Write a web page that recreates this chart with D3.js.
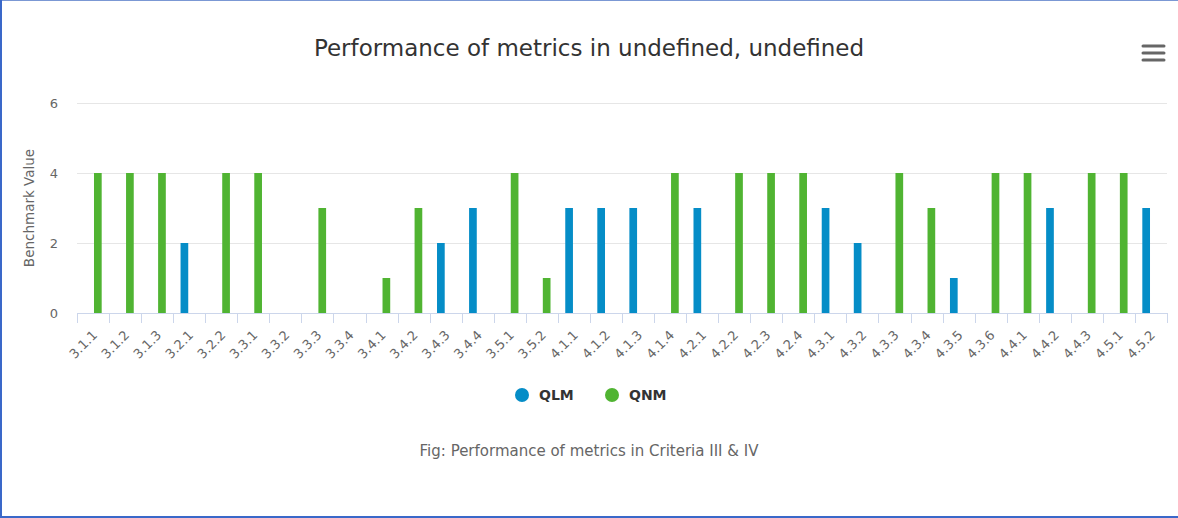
<!DOCTYPE html>
<html>
<head>
<meta charset="utf-8">
<script src="https://cdn.jsdelivr.net/npm/d3@7"></script>
<style>
  html, body { margin: 0; padding: 0; background: #fff; }
  svg { display: block; font-family: "DejaVu Sans", Verdana, sans-serif; }
</style>
</head>
<body>
<div id="chart"></div>
<script>
// categories (metric ids)
const categories = [
    "3.1.1", "3.1.2", "3.1.3", "3.2.1", "3.2.2", "3.3.1", "3.3.2", "3.3.3", "3.3.4",
    "3.4.1", "3.4.2", "3.4.3", "3.4.4", "3.5.1", "3.5.2",
    "4.1.1", "4.1.2", "4.1.3", "4.1.4", "4.2.1", "4.2.2", "4.2.3", "4.2.4",
    "4.3.1", "4.3.2", "4.3.3", "4.3.4", "4.3.5", "4.3.6",
    "4.4.1", "4.4.2", "4.4.3", "4.5.1", "4.5.2"
];

// QLM values (null = no bar)
const qlm = [
    null, null, null, 2, null, null, null, null, null,
    null, null, 2, 3, null, null,
    3, 3, 3, null, 3, null, null, null,
    3, 2, null, null, 1, null,
    null, 3, null, null, 3
];

// QNM values
const qnm = [
    4, 4, 4, null, 4, 4, null, 3, null,
    1, 3, null, null, 4, 1,
    null, null, null, 4, null, 4, 4, 4,
    null, null, 4, 3, null, 4,
    4, null, 4, 4, null
];

const seriesNames = ["QLM", "QNM"];
const seriesColors = ["#058dc7", "#50b432"];
const yTicks = [0, 2, 4, 6];

const width = 1178;
const height = 518;
const marginTop = 103;
const marginRight = 11;
const marginBottom = 205;
const marginLeft = 77;

const svg = d3.select("#chart").append("svg")
    .attr("width", width)
    .attr("height", height);

// outer frame lines
svg.append("line").attr("x1", 0).attr("x2", width).attr("y1", 0.5).attr("y2", 0.5)
    .attr("stroke", "#7b98d4").attr("stroke-width", 1);
svg.append("line").attr("x1", 1).attr("x2", 1).attr("y1", 0).attr("y2", height)
    .attr("stroke", "#3a68c9").attr("stroke-width", 2);
svg.append("line").attr("x1", 0).attr("x2", width).attr("y1", height - 1).attr("y2", height - 1)
    .attr("stroke", "#3a68c9").attr("stroke-width", 2);

const x = d3.scaleBand()
    .domain(categories)
    .range([marginLeft, width - marginRight]);

const xs = d3.scaleBand()
    .domain(seriesNames)
    .range([x.bandwidth() * 0.2, x.bandwidth() * 0.8])
    .paddingInner(0.2)
    .paddingOuter(0.1);

const y = d3.scaleLinear()
    .domain([0, 6])
    .range([height - marginBottom, marginTop]);

// gridlines
svg.append("g")
    .selectAll("line")
    .data(yTicks)
    .join("line")
    .attr("x1", marginLeft)
    .attr("x2", width - marginRight)
    .attr("y1", d => Math.round(y(d)) + 0.5)
    .attr("y2", d => Math.round(y(d)) + 0.5)
    .attr("stroke", "#e6e6e6");

// y axis labels
svg.append("g")
    .attr("transform", `translate(${marginLeft - 19},0)`)
    .call(d3.axisLeft(y).tickValues(yTicks).tickFormat(d3.format("d")).tickSize(0).tickPadding(0))
    .call(g => g.select(".domain").remove())
    .call(g => g.selectAll("text")
        .attr("fill", "#666")
        .style("font-size", "13px")
        .style("font-family", "DejaVu Sans"));

// y axis title
svg.append("text")
    .attr("transform", `translate(34,${(y(0) + y(6)) / 2}) rotate(-90)`)
    .attr("text-anchor", "middle")
    .attr("fill", "#666")
    .style("font-size", "13.5px")
    .text("Benchmark Value");

// bars
const series = [qlm, qnm];
series.forEach((vals, si) => {
    svg.append("g")
        .selectAll("rect")
        .data(categories.map((c, i) => ({ c, v: vals[i] })).filter(d => d.v != null))
        .join("rect")
        .attr("x", d => x(d.c) + xs(seriesNames[si]))
        .attr("y", d => y(d.v))
        .attr("width", xs.bandwidth())
        .attr("height", d => y(0) - y(d.v))
        .attr("fill", seriesColors[si]);
});

// x axis line and ticks at category boundaries
const xAxis = svg.append("g");
xAxis.append("line")
    .attr("x1", marginLeft).attr("x2", width - marginRight)
    .attr("y1", y(0) + 0.5).attr("y2", y(0) + 0.5)
    .attr("stroke", "#ccd6eb");
xAxis.selectAll("line.tick")
    .data(categories.map(c => x(c)).concat([x.range()[1]]))
    .join("line")
    .attr("class", "tick")
    .attr("x1", d => Math.round(d) + 0.5).attr("x2", d => Math.round(d) + 0.5)
    .attr("y1", y(0)).attr("y2", y(0) + 10)
    .attr("stroke", "#ccd6eb");

// x labels
svg.append("g")
    .attr("transform", `translate(0,${y(0)})`)
    .call(d3.axisBottom(x).tickSize(0))
    .call(g => g.select(".domain").remove())
    .call(g => g.selectAll("text")
        .attr("x", 0).attr("y", 0).attr("dy", null)
        .attr("transform", "translate(5,23) rotate(-45)")
        .style("text-anchor", "end")
        .attr("fill", "#666")
        .style("font-size", "13px")
        .style("font-family", "DejaVu Sans"));

// title
svg.append("text")
    .attr("x", width / 2)
    .attr("y", 56)
    .attr("text-anchor", "middle")
    .attr("fill", "#333")
    .style("font-size", "23px")
    .text("Performance of metrics in undefined, undefined");

// menu icon
svg.append("g")
    .selectAll("line")
    .data([46, 53, 60])
    .join("line")
    .attr("x1", 1143).attr("x2", 1164)
    .attr("y1", d => d).attr("y2", d => d)
    .attr("stroke", "#666")
    .attr("stroke-width", 3)
    .attr("stroke-linecap", "round");

// legend
const legend = svg.append("g");
const legendX = [522, 612];
seriesNames.forEach((name, i) => {
    legend.append("circle")
        .attr("cx", legendX[i]).attr("cy", 395).attr("r", 7)
        .attr("fill", seriesColors[i]);
    legend.append("text")
        .attr("x", legendX[i] + 17).attr("y", 400)
        .attr("fill", "#333")
        .style("font-size", "14px")
        .style("font-weight", "bold")
        .text(name);
});

// caption
svg.append("text")
    .attr("x", width / 2)
    .attr("y", 456)
    .attr("text-anchor", "middle")
    .attr("fill", "#666")
    .style("font-size", "15px")
    .text("Fig: Performance of metrics in Criteria III & IV");
</script>
</body>
</html>
